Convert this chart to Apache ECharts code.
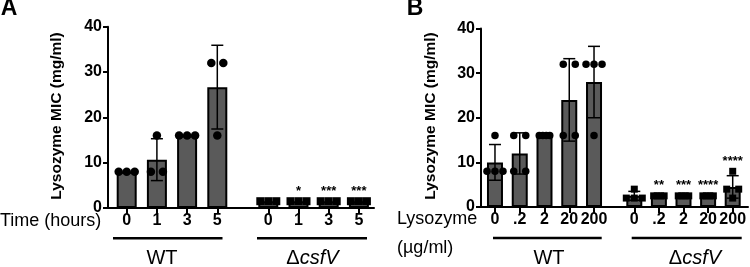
<!DOCTYPE html>
<html><head><meta charset="utf-8">
<script src="https://cdn.jsdelivr.net/npm/echarts@6/dist/echarts.min.js"></script>
<style>html,body{margin:0;padding:0;background:#fff}#c{width:750px;height:267px}</style>
</head><body><div id="c"></div>
<script>
// ---------- data ----------
const catA = ['0', '1', '3', '5'];
const catB = ['0', '.2', '2', '20', '200'];
const yTicks = [0, 10, 20, 30, 40];
// Panel A: lysozyme MIC (mg/ml) replicates per time point
const aWT   = [[8, 8, 8], [16, 8, 8], [16, 16, 16], [32, 32, 16]];
const aCsfV = [[1.5, 1.5, 1.5], [1.5, 1.5, 1.5], [1.5, 1.5, 1.5], [1.5, 1.5, 1.5]];
const aStarsWT = ['', '', '', ''];
const aStarsCsfV = ['', '*', '***', '***'];
// Panel B: lysozyme MIC (mg/ml) replicates per pre-treatment dose
const bWT   = [[16, 8, 8, 8], [16, 16, 8, 8], [16, 16, 16, 16], [32, 32, 16, 16], [32, 32, 32, 16]];
const bCsfV = [[4, 2, 2, 2], [2.5, 2.5, 2.5, 2.5], [2.5, 2.5, 2.5, 2.5], [2.5, 2.5, 2.5, 2.5], [8, 4, 4, 2]];
const bStarsWT = ['', '', '', '', ''];
const bStarsCsfV = ['', '**', '***', '****', '****'];

// ---------- helpers ----------
const FONT = '"Liberation Sans", Arial, Helvetica, sans-serif';
const BAR = '#5a5a5a';
function mean(a){ return a.reduce((s, v) => s + v, 0) / a.length; }
function sd(a){ const m = mean(a); return Math.sqrt(a.reduce((s, v) => s + (v - m) * (v - m), 0) / (a.length - 1)); }
function spread(n){ return n === 2 ? 12 : n === 3 ? 8 : n >= 4 ? 3.5 : 0; }
function pointData(reps){
  const out = [];
  reps.forEach((vals, i) => {
    const groups = {};
    vals.forEach(v => { (groups[v] = groups[v] || []).push(v); });
    Object.keys(groups).forEach(k => {
      const n = groups[k].length, sp = spread(n);
      groups[k].forEach((v, j) => out.push({ value: [i, v], symbolOffset: [(j - (n - 1) / 2) * sp, 0] }));
    });
  });
  return out;
}

const panels = [
  { base: { left: 108, top: 26.7, right: 376, bottom: 59 },
    groups: [
      { left: 111.6, width: 120.8, cats: catA, reps: aWT, stars: aStarsWT, symbol: 'circle', size: 8.5, barW: 20 },
      { left: 253.2, width: 120.8, cats: catA, reps: aCsfV, stars: aStarsCsfV, symbol: 'rect', size: 8, barW: 20 }
    ] },
  { base: { left: 481, top: 28.5, right: 2, bottom: 60 },
    groups: [
      { left: 482.6, width: 123.8, cats: catB, reps: bWT, stars: bStarsWT, symbol: 'circle', size: 7.5, barW: 16 },
      { left: 622, width: 123, cats: catB, reps: bCsfV, stars: bStarsCsfV, symbol: 'rect', size: 7, barW: 16 }
    ] }
];

const grid = [], xAxis = [], yAxis = [], series = [];
panels.forEach(p => {
  const gi = grid.length;
  grid.push({ left: p.base.left, top: p.base.top, right: p.base.right, bottom: p.base.bottom });
  xAxis.push({ gridIndex: gi, type: 'value', min: 0, max: 1, axisLine: { show: true, lineStyle: { color: '#000', width: 2 } },
    axisTick: { show: false }, axisLabel: { show: false }, splitLine: { show: false } });
  yAxis.push({ gridIndex: gi, type: 'value', min: 0, max: 40, interval: 10,
    axisLine: { show: true, lineStyle: { color: '#000', width: 2 } },
    axisTick: { show: true, length: 5, lineStyle: { color: '#000', width: 2 } },
    axisLabel: { margin: 6, color: '#000', fontFamily: FONT, fontWeight: 'bold', fontSize: 16,
      formatter: v => (yTicks.indexOf(v) >= 0 ? String(v) : '') },
    splitLine: { show: false } });
  p.groups.forEach(g => {
    const idx = grid.length;
    grid.push({ left: g.left, top: p.base.top, width: g.width, bottom: p.base.bottom });
    xAxis.push({ gridIndex: idx, type: 'category', data: g.cats, axisLine: { show: false },
      axisTick: { show: true, alignWithLabel: true, length: 6, lineStyle: { color: '#000', width: 2 } },
      axisLabel: { interval: 0, margin: 5, color: '#000', fontFamily: FONT, fontWeight: 'bold', fontSize: 16 } });
    yAxis.push({ gridIndex: idx, type: 'value', min: 0, max: 40, show: false });
    const means = g.reps.map(mean);
    const sds = g.reps.map(sd);
    series.push({ type: 'bar', xAxisIndex: idx, yAxisIndex: idx, data: means, barWidth: g.barW,
      itemStyle: { color: BAR, borderColor: '#000', borderWidth: 2 }, z: 2, silent: true, animation: false });
    series.push({ type: 'custom', xAxisIndex: idx, yAxisIndex: idx, z: 3, animation: false, silent: true,
      data: means.map((m, i) => [i, m, sds[i]]),
      renderItem: (params, api) => {
        const i = api.value(0), m = api.value(1), s = api.value(2);
        if (!(s > 0)) return null;
        const top = api.coord([i, m + s]), bot = api.coord([i, m - s]);
        const st = { stroke: '#000', lineWidth: 1.5 };
        return { type: 'group', children: [
          { type: 'line', shape: { x1: top[0], y1: top[1], x2: bot[0], y2: bot[1] }, style: st },
          { type: 'line', shape: { x1: top[0] - 6, y1: top[1], x2: top[0] + 6, y2: top[1] }, style: st },
          { type: 'line', shape: { x1: bot[0] - 6, y1: bot[1], x2: bot[0] + 6, y2: bot[1] }, style: st }
        ] };
      } });
    series.push({ type: 'scatter', xAxisIndex: idx, yAxisIndex: idx, z: 4, animation: false, silent: true,
      symbol: g.symbol, symbolSize: g.size, itemStyle: { color: '#000', opacity: 1 }, data: pointData(g.reps) });
    series.push({ type: 'custom', xAxisIndex: idx, yAxisIndex: idx, z: 5, animation: false, silent: true,
      data: g.reps.map((r, i) => [i, Math.max(Math.max.apply(null, r), means[i] + (sds[i] || 0))]),
      renderItem: (params, api) => {
        const t = g.stars[params.dataIndex];
        if (!t) return null;
        const c = api.coord([api.value(0), api.value(1)]);
        return { type: 'text', x: c[0], y: c[1] - 10,
          style: { text: t, fill: '#000', font: 'bold 13px ' + FONT, align: 'center', verticalAlign: 'middle' } };
      } });
  });
});

function txt(x, y, text, font, align, rot){
  return { type: 'text', x: x, y: y, rotation: rot || 0,
    style: { text: text, fill: '#000', font: font, align: align || 'center', verticalAlign: 'middle' } };
}
function hline(x1, x2, y){
  return { type: 'line', shape: { x1: x1, y1: y, x2: x2, y2: y }, style: { stroke: '#000', lineWidth: 2.5 } };
}
function delta(x, y){
  return { type: 'text', x: x, y: y, style: { text: '{n|Δ}{i|csfV}', align: 'center', verticalAlign: 'middle',
    rich: { n: { fontFamily: FONT, fontSize: 20, fill: '#000' }, i: { fontFamily: FONT, fontSize: 20, fontStyle: 'italic', fill: '#000' } } } };
}

const graphic = [
  txt(9, 9, 'A', 'bold 23px ' + FONT),
  txt(415, 9, 'B', 'bold 23px ' + FONT),
  txt(57, 116, 'Lysozyme MIC (mg/ml)', 'bold 15.5px ' + FONT, 'center', Math.PI / 2),
  txt(431, 116, 'Lysozyme MIC (mg/ml)', 'bold 15.5px ' + FONT, 'center', Math.PI / 2),
  txt(0, 221, 'Time (hours)', '18px ' + FONT, 'left'),
  txt(397, 219, 'Lysozyme', '18px ' + FONT, 'left'),
  txt(397, 248, '(µg/ml)', '18px ' + FONT, 'left'),
  hline(113, 222.5, 238.3), hline(257, 367, 238.3),
  hline(493, 601.7, 238), hline(631.7, 741.7, 238),
  txt(162, 258, 'WT', '20px ' + FONT), delta(312.5, 258),
  txt(549, 258, 'WT', '20px ' + FONT), delta(695, 258)
];

const chart = echarts.init(document.getElementById('c'), null, { renderer: 'canvas' });
chart.setOption({ animation: false, grid, xAxis, yAxis, series, graphic });
</script></body></html>
